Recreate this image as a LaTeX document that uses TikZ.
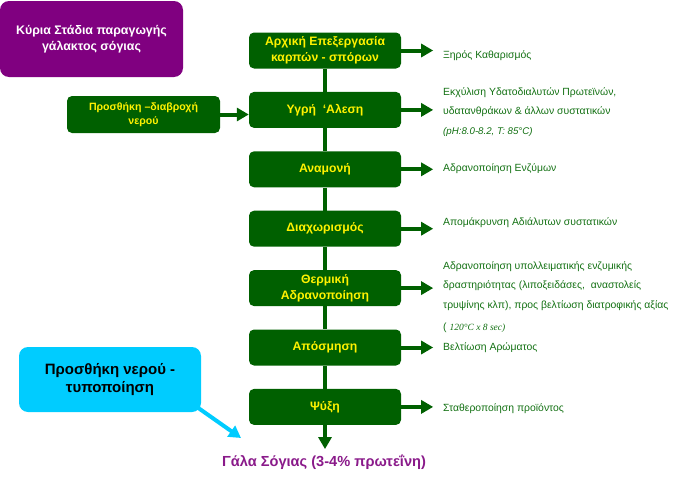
\documentclass[tikz,border=0pt]{standalone}
\usepackage{fontspec}
\setmainfont{Liberation Sans}
\newfontfamily\notesec{Liberation Serif}
\usetikzlibrary{arrows.meta,positioning}

\definecolor{stagegreen}{HTML}{006000}
\definecolor{notegreen}{HTML}{127012}
\definecolor{titlepurple}{HTML}{800080}
\definecolor{milkpurple}{HTML}{8A1A8A}
\definecolor{watercyan}{HTML}{00CCFF}

\tikzstyle{stage} = [rectangle, rounded corners=5pt, fill=stagegreen, text=yellow, font=\bfseries\fontsize{12.2}{15.5}\selectfont, minimum width=152pt, minimum height=36pt, align=center, inner sep=2pt]
\tikzstyle{flow} = [line width=4pt, draw=stagegreen]
\tikzstyle{arrow} = [line width=4pt, draw=stagegreen, fill=stagegreen, -{Triangle[length=12pt,width=13pt]}]
\tikzstyle{note} = [anchor=west, text=notegreen, font=\fontsize{10.4}{19.5}\selectfont, align=left, inner sep=0pt]

\begin{document}
\begin{tikzpicture}[x=1pt,y=-1pt]
    \useasboundingbox (0,0) rectangle (686,479);

    \node (title) [rectangle, rounded corners=9pt, fill=titlepurple, text=white, font=\bfseries\fontsize{12.4}{15.5}\selectfont, minimum width=183pt, minimum height=76pt, align=center] at (91.5,39) {\raisebox{-2pt}{\parbox{170pt}{\centering Κύρια Στάδια παραγωγής\\γάλακτος σόγιας}}};

    % main stages
    \begin{scope}[node distance=23pt]
    \node (prep) [stage] at (325,50.5) {Αρχική Επεξεργασία\\καρπών - σπόρων};
    \node (mill) [stage, below=of prep] {Υγρή \ ‘Αλεση};
    \node (hold) [stage, below=of mill] {Αναμονή};
    \node (sep) [stage, below=of hold] {Διαχωρισμός};
    \node (heat) [stage, below=of sep] {Θερμική\\Αδρανοποίηση};
    \node (deod) [stage, below=of heat] {Απόσμηση};
    \node (cool) [stage, below=of deod] {Ψύξη};
    \end{scope}

    \node (soak) [stage, font=\bfseries\fontsize{10.6}{14.5}\selectfont, minimum width=153pt, minimum height=37pt] at (143.5,114.5) {Προσθήκη –διαβροχή\\νερού};

    \node (water) [rectangle, rounded corners=9pt, fill=watercyan, font=\bfseries\fontsize{15}{18}\selectfont, minimum width=182pt, minimum height=65pt, align=center] at (110,379.5) {Προσθήκη νερού -\\τυποποίηση};

    \node (milk) [text=milkpurple, font=\bfseries\fontsize{14.6}{16}\selectfont] at (324,462) {Γάλα Σόγιας (3-4\% πρωτεΐνη)};

    % stage notes
    \node (n1) [note] at (443,56) {Ξηρός Καθαρισμός};
    \node (n2) [note] at (443,112) {Εκχύλιση Υδατοδιαλυτών Πρωτεϊνών,\\υδατανθράκων \& άλλων συστατικών\\{\itshape\fontsize{9.7}{10}\selectfont (pH:8.0-8.2, T: 85°C)}};
    \node (n3) [note] at (443,169) {Αδρανοποίηση Ενζύμων};
    \node (n4) [note] at (443,223) {Απομάκρυνση Αδιάλυτων συστατικών};
    \node (n5) [note] at (443,286) {Αδρανοποίηση υπολλειματικής ενζυμικής\\δραστηριότητας (λιποξειδάσες, \ αναστολείς\\τρυψίνης κλπ), προς βελτίωση διατροφικής αξίας};
    \node (n6) [note] at (443,338) {( {\notesec\itshape\fontsize{9.5}{10}\selectfont 120°C x 8 sec)}\\Βελτίωση Αρώματος};
    \node (n7) [note] at (443,409) {Σταθεροποίηση προϊόντος};

    \coordinate (e1) at ([xshift=32pt]prep.east);
    \coordinate (e2) at ([xshift=32pt]mill.east);
    \coordinate (e3) at ([xshift=32pt]hold.east);
    \coordinate (e4) at ([xshift=32pt]sep.east);
    \coordinate (e5) at ([xshift=32pt]heat.east);
    \coordinate (e6) at ([xshift=32pt]deod.east);
    \coordinate (e7) at ([xshift=32pt]cool.east);
    \coordinate (milktop) at ([yshift=-24pt]cool.south);
    \coordinate (watertip) at (241,438);

    \draw [flow] (prep) -- (mill);
    \draw [flow] (mill) -- (hold);
    \draw [flow] (hold) -- (sep);
    \draw [flow] (sep) -- (heat);
    \draw [flow] (heat) -- (deod);
    \draw [flow] (deod) -- (cool);
    \draw [arrow] (cool) -- (milktop);

    \draw [arrow] (prep.east) -- (e1);
    \draw [arrow] (mill.east) -- (e2);
    \draw [arrow] (hold.east) -- (e3);
    \draw [arrow] (sep.east) -- (e4);
    \draw [arrow] (heat.east) -- (e5);
    \draw [arrow] (deod.east) -- (e6);
    \draw [arrow] (cool.east) -- (e7);

    \draw [arrow] (soak.east) -- (soak.east -| mill.west);
    \draw [arrow, draw=watercyan, fill=watercyan] ([shift={(-4pt,5pt)}]water.south east) -- (watertip);
\end{tikzpicture}
\end{document}
